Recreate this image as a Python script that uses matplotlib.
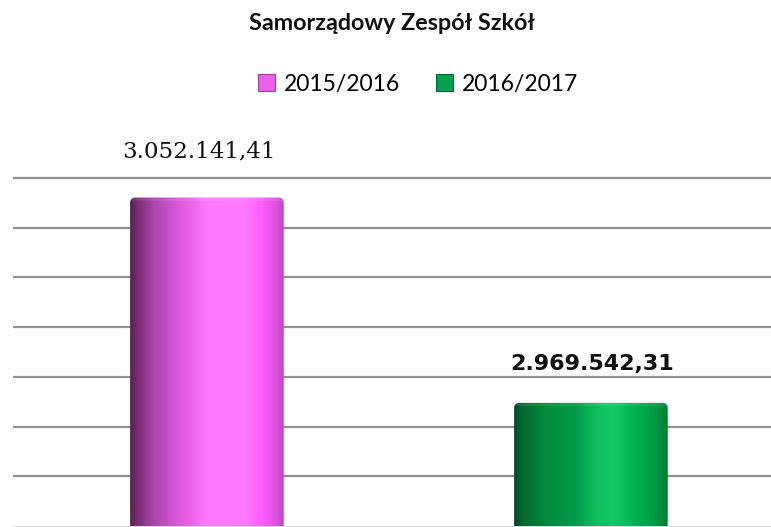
import matplotlib

matplotlib.use("Agg")

import matplotlib.pyplot as plt
import numpy as np
from matplotlib.colors import to_rgb
from matplotlib.patches import Patch, PathPatch
from matplotlib.path import Path

# data
title = "Samorządowy Zespół Szkół"
series_names = ["2015/2016", "2016/2017"]
values = [3052141.41, 2969542.31]
value_labels = ["3.052.141,41", "2.969.542,31"]
grid_values = [2920000, 2940000, 2960000, 2980000, 3000000, 3020000, 3040000, 3060000]

# style
Y_MIN, Y_MAX = 2920000, 3060000
BAR_WIDTH = 0.40
label_offsets = [(-6, 33), (1, 28)]  # points
label_fonts = [
    dict(family="DejaVu Serif", fontsize=16.6, fontweight="normal"),
    dict(family="DejaVu Sans", fontsize=16, fontweight="bold"),
]
gradients = [
    [(0.00, "#5a2050"), (0.05, "#7a2e74"), (0.15, "#a845a8"), (0.30, "#d855d8"),
     (0.42, "#f068f0"), (0.50, "#ff78ff"), (0.75, "#ff78ff"), (0.85, "#ff5eff"),
     (0.95, "#e050e0"), (1.00, "#b848c0")],
    [(0.00, "#004a22"), (0.05, "#006830"), (0.20, "#008a3c"), (0.40, "#009a48"),
     (0.55, "#10c060"), (0.65, "#12c866"), (0.80, "#00b050"), (0.92, "#009a42"),
     (1.00, "#007a34")],
]
legend_colors = [("#e862e8", "#a83ca8"), ("#00a04c", "#006830")]


def gradient_row(stops, n=256):
    xs = np.linspace(0, 1, n)
    pos = [s[0] for s in stops]
    rgb = np.array([to_rgb(s[1]) for s in stops])
    row = np.stack([np.interp(xs, pos, rgb[:, k]) for k in range(3)], axis=-1)
    return row[np.newaxis, :, :]


def rounded_top_path(x0, x1, y0, y1, rx, ry, n=8):
    verts = [(x0, y0), (x0, y1 - ry)]
    for t in np.linspace(np.pi, np.pi / 2, n):
        verts.append((x0 + rx + rx * np.cos(t), y1 - ry + ry * np.sin(t)))
    for t in np.linspace(np.pi / 2, 0, n):
        verts.append((x1 - rx + rx * np.cos(t), y1 - ry + ry * np.sin(t)))
    verts += [(x1, y0), (x0, y0)]
    codes = [Path.MOVETO] + [Path.LINETO] * (len(verts) - 2) + [Path.CLOSEPOLY]
    return Path(verts, codes)


fig = plt.figure(figsize=(7.71, 5.27), dpi=100)
ax = fig.add_axes([13 / 771, 1 / 527, 768 / 771, 348 / 527])
ax.set_xlim(-0.505, 1.495)
ax.set_ylim(Y_MIN, Y_MAX)
ax.set_axis_off()

# grid
ax.hlines(grid_values[1:], -0.505, 1.495, colors="#8f8f8f", linewidth=1.6,
          zorder=1, clip_on=False)
ax.axhline(Y_MIN, color="#dcdcdc", linewidth=1.0, zorder=1, clip_on=False)

x = np.arange(len(values))
bars = ax.bar(x, [v - Y_MIN for v in values], bottom=Y_MIN, width=BAR_WIDTH,
              color="none", edgecolor="none", zorder=2)

rx = 5 / 384
ry = 5 * (Y_MAX - Y_MIN) / 348
for bar, stops in zip(bars, gradients):
    x0, y0 = bar.get_x(), bar.get_y()
    x1, y1 = x0 + bar.get_width(), y0 + bar.get_height()
    clip = PathPatch(rounded_top_path(x0, x1, y0, y1, rx, ry), transform=ax.transData,
                     facecolor="none", edgecolor="none")
    ax.add_patch(clip)
    img = ax.imshow(gradient_row(stops), extent=[x0, x1, y0, y1], aspect="auto",
                    interpolation="bilinear", zorder=3)
    img.set_clip_path(clip)
    # lighter top rim
    top = np.array(gradient_row(stops)) * 0.85 + 0.15
    rim = ax.imshow(top, extent=[x0, x1, y1 - 3 * ry / 5, y1], aspect="auto",
                    interpolation="bilinear", zorder=4, alpha=0.6)
    rim.set_clip_path(clip)

ax.set_xlim(-0.505, 1.495)
ax.set_ylim(Y_MIN, Y_MAX)

for xi, v, lab, off, fnt in zip(x, values, value_labels, label_offsets, label_fonts):
    ax.annotate(lab, xy=(xi, v), xytext=off, textcoords="offset points",
                ha="center", va="center", color="#111111", annotation_clip=False,
                **fnt)

fig.text(392 / 771, 1 - 23 / 527, title, ha="center", va="center",
         fontsize=16.8, fontweight="bold", family="Lato", color="#111111")

handles = [Patch(facecolor=fc, edgecolor=ec, linewidth=0.8) for fc, ec in legend_colors]
fig.legend(handles, series_names, loc="center", bbox_to_anchor=(418 / 771, 1 - 84 / 527),
           ncol=2, frameon=False, handlelength=0.75, handleheight=0.75,
           handletextpad=0.4, columnspacing=1.55, borderpad=0,
           prop=dict(family="Lato", size=16.5))

fig.savefig("out.png", dpi=100)
